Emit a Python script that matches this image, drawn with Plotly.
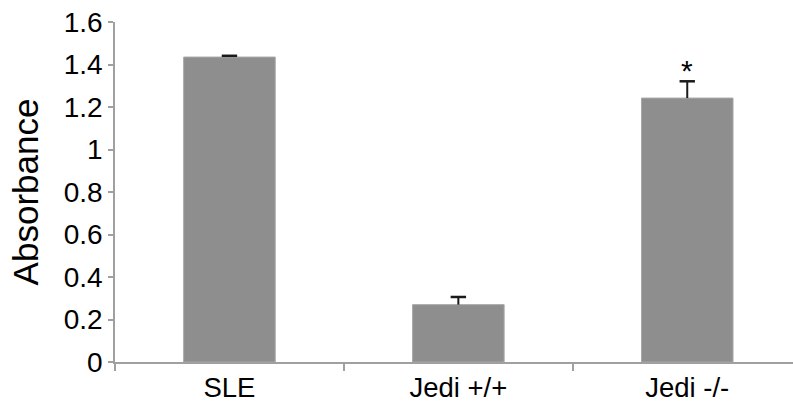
import plotly.graph_objects as go

categories = ["SLE", "Jedi +/+", "Jedi -/-"]
absorbance = [1.435, 0.270, 1.242]
error_upper = [0.006, 0.036, 0.079]
significance = ["", "", "*"]
y_ticks = [0, 0.2, 0.4, 0.6, 0.8, 1.0, 1.2, 1.4, 1.6]

fig = go.Figure()
fig.add_trace(go.Bar(
    x=categories, y=absorbance, width=0.4,
    marker=dict(color="#8e8e8e", line=dict(color="#a8a8a8", width=1)),
))
# one-sided (upper) error bars: stem from bar top to value+error, cap at the top
ex, ey = [], []
for c, v, e in zip(categories, absorbance, error_upper):
    ex += [c, c, None]
    ey += [v, v + e, None]
fig.add_trace(go.Scatter(x=ex, y=ey, mode="lines", line=dict(color="#1a1a1a", width=2),
                         hoverinfo="skip"))
fig.add_trace(go.Scatter(x=categories, y=[v + e for v, e in zip(absorbance, error_upper)],
                         mode="markers", hoverinfo="skip",
                         marker=dict(symbol="line-ew", size=11,
                                     line=dict(color="#1a1a1a", width=2.5))))
for c, v, e, s in zip(categories, absorbance, error_upper, significance):
    if s:
        fig.add_annotation(x=c, y=v + e + 0.05, text=s, showarrow=False,
                           font=dict(size=30, color="black"), yanchor="middle")

fig.update_layout(
    width=793, height=405,
    margin=dict(l=115, r=0, t=22, b=43),
    paper_bgcolor="white", plot_bgcolor="white",
    font=dict(family="Liberation Sans, Arial, sans-serif", color="black"),
    showlegend=False,
)
fig.update_xaxes(
    range=[-0.5, 2.462], showline=True, linecolor="#a0a0a0", linewidth=1.5,
    ticks="outside", tickson="boundaries", ticklen=7, tickcolor="#a0a0a0", tickwidth=1.5,
    tickfont=dict(size=27.5), showgrid=False, zeroline=False,
)
fig.update_yaxes(
    range=[0, 1.6], tickvals=y_ticks, showline=True, linecolor="#a0a0a0", linewidth=1.5,
    ticks="outside", ticklen=5, tickcolor="#a0a0a0", tickwidth=1.5,
    tickfont=dict(size=28), showgrid=False, zeroline=False,
    title=dict(text="Absorbance", font=dict(size=35), standoff=14),
)
fig.write_html("out.html")
